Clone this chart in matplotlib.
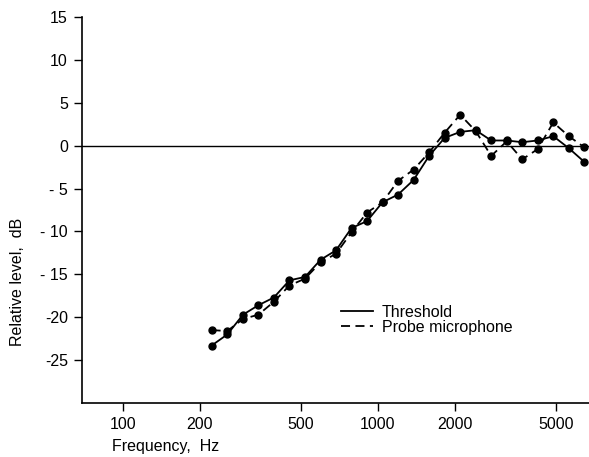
import matplotlib
matplotlib.use("Agg")
import matplotlib.pyplot as plt

plt.rcParams['font.family'] = ['Liberation Sans', 'DejaVu Sans']

freq_hz = [223, 257, 296, 340, 391, 450, 518, 596, 685, 788, 906, 1042, 1199,
           1379, 1586, 1824, 2099, 2414, 2777, 3194, 3674, 4227, 4862, 5593, 6434]
threshold_db = [-23.3, -22.0, -19.7, -18.6, -17.7, -15.7, -15.3, -13.3, -12.2,
                -9.6, -8.8, -6.6, -5.7, -4.0, -1.2, 0.9, 1.6, 1.8, 0.6, 0.6,
                0.4, 0.6, 1.1, -0.3, -1.9]
probe_db = [-21.5, -21.6, -20.2, -19.7, -18.2, -16.3, -15.5, -13.6, -12.6,
            -10.1, -7.8, -6.6, -4.1, -2.8, -0.8, 1.5, 3.6, 1.7, -1.2, 0.5,
            -1.6, -0.4, 2.7, 1.1, -0.2]

x_ticks = [100, 200, 500, 1000, 2000, 5000]
x_tick_labels = ["100", "200", "500", "1000", "2000", "5000"]
y_ticks = [-25, -20, -15, -10, -5, 0, 5, 10, 15]
y_tick_labels = ["-25", "-20", "- 15", "- 10", "- 5", "0", "5", "10", "15"]

fs = 11.5

fig = plt.figure(figsize=(5.89, 4.57), dpi=100)
ax = fig.add_axes([0.139, 0.118, 0.861, 0.845])

ax.axhline(0, color='black', lw=1.0, zorder=1)
ax.plot(freq_hz, threshold_db, color='black', lw=1.3, ls='-', marker='o',
        markersize=5, label='Threshold', zorder=3)
ax.plot(freq_hz, probe_db, color='black', lw=1.3, ls=(0, (5, 3)), marker='o',
        markersize=5, label='Probe microphone', zorder=3)

ax.set_xscale('log')
ax.set_xlim(69.2, 6710)
ax.set_ylim(-30, 15)
ax.set_xticks(x_ticks)
ax.set_xticklabels(x_tick_labels)
ax.minorticks_off()
ax.set_yticks(y_ticks)
ax.set_yticklabels(y_tick_labels)

for s in ['top', 'right']:
    ax.spines[s].set_visible(False)
for s in ['left', 'bottom']:
    ax.spines[s].set_linewidth(1.2)
ax.tick_params(axis='both', direction='out', length=6, width=1.0,
               labelsize=fs, pad=4)

ax.legend(loc='upper left', bbox_to_anchor=(341 / 589, 1 - 305 / 457),
          bbox_transform=fig.transFigure, frameon=False,
          fontsize=fs, handlelength=2.0, handletextpad=0.55,
          labelspacing=0.0, borderpad=0, borderaxespad=0, markerscale=0)

fig.text(18 / 589, 1 - 282 / 457, 'Relative level,  dB', rotation=90,
         ha='center', va='center', fontsize=fs)
fig.text(112 / 589, 1 - 447 / 457, 'Frequency,  Hz', ha='left', va='center',
         fontsize=fs)

fig.savefig('out.png', dpi=100)
